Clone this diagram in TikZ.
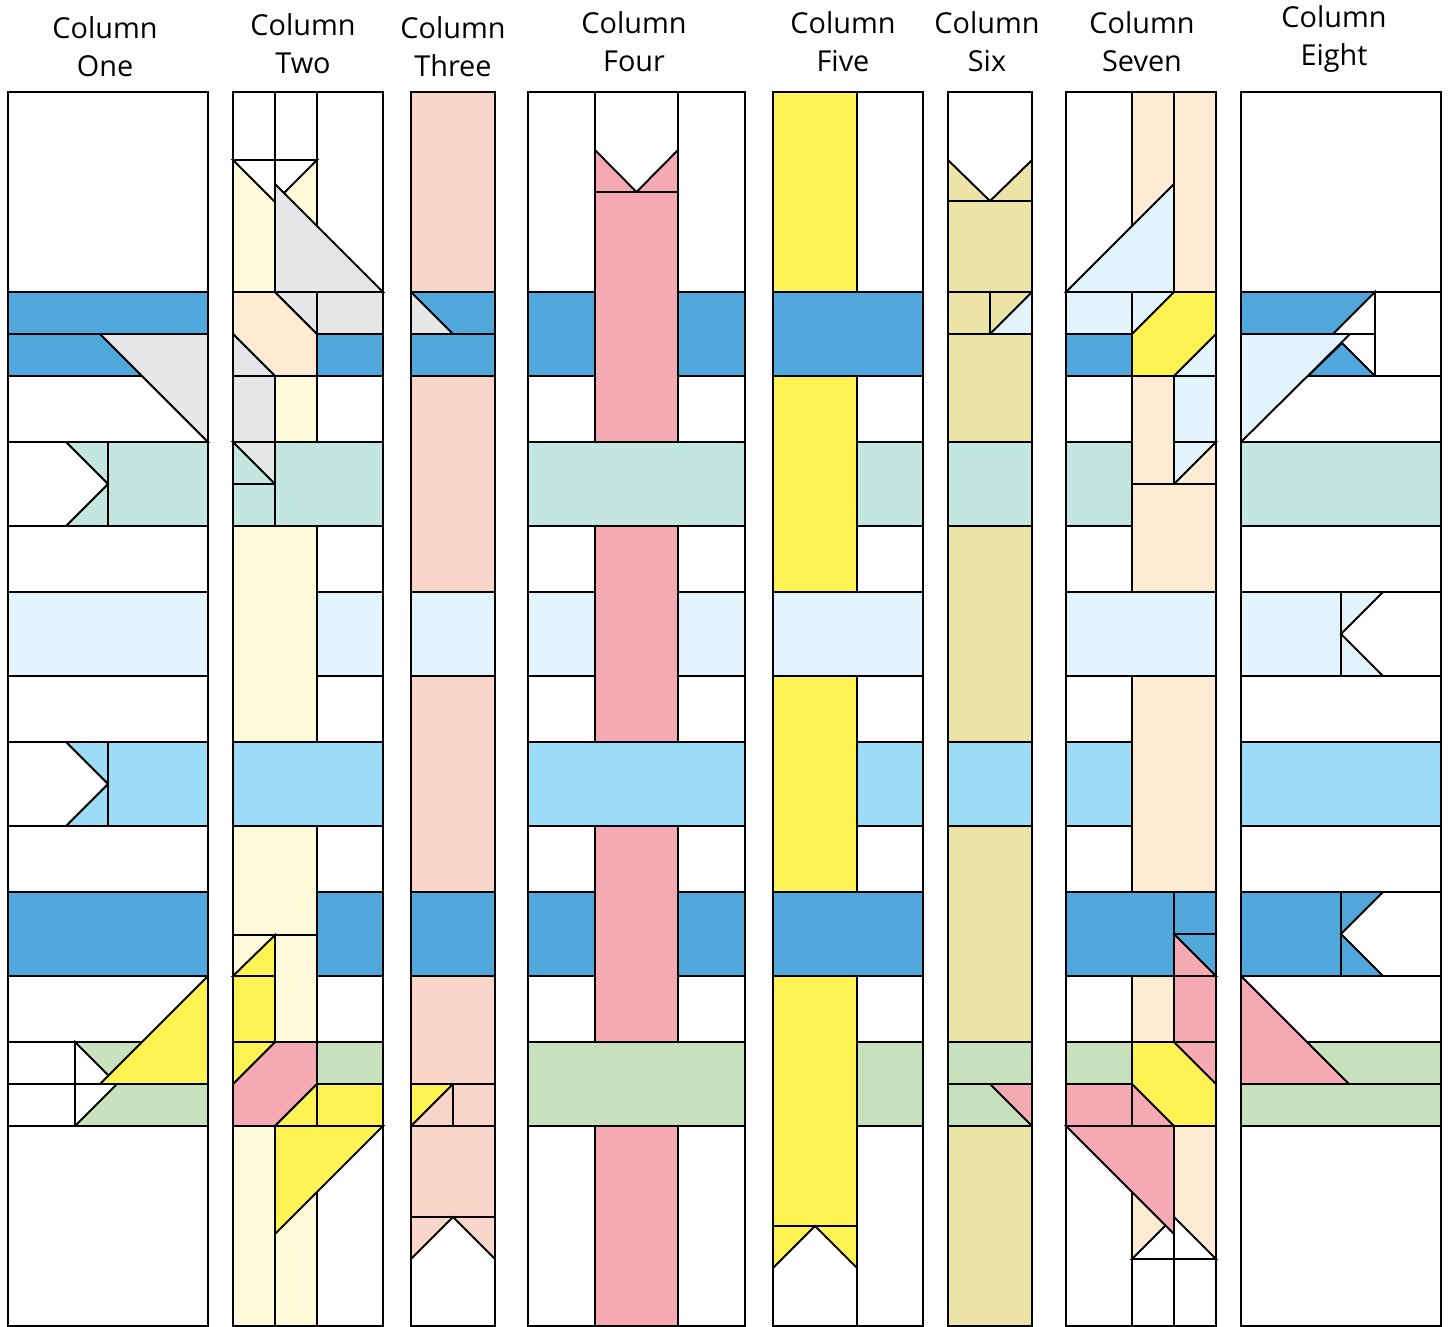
\documentclass[tikz,border=0pt]{standalone}
\usepackage{fontspec}
\setmainfont{Open Sans}

\definecolor{dblue}{RGB}{79,167,220}
\definecolor{mblue}{RGB}{157,220,247}
\definecolor{lcyan}{RGB}{226,243,251}
\definecolor{mint}{RGB}{196,230,224}
\definecolor{sage}{RGB}{199,225,189}
\definecolor{stone}{RGB}{229,230,232}
\definecolor{lyel}{RGB}{255,250,218}
\definecolor{yel}{RGB}{255,242,83}
\definecolor{salmon}{RGB}{249,213,201}
\definecolor{rose}{RGB}{245,170,179}
\definecolor{cream}{RGB}{253,235,212}
\definecolor{khaki}{RGB}{236,228,167}

\tikzset{
  tile/.style={draw=black, line width=0.55pt, line join=miter, fill=white},
  title/.style={align=center, inner sep=0pt, font=\fontsize{8.2}{10.8}\selectfont}
}

\begin{document}
\begin{tikzpicture}[x=0.01cm, y=-0.01cm]

  \useasboundingbox (0,0) rectangle (1448,1326);

  % titles
  \node[title] (t1) at (105,47)  {Column\\One};
  \node[title] (t2) at (303,44)  {Column\\Two};
  \node[title] (t3) at (453,47)  {Column\\Three};
  \node[title] (t4) at (634,42)  {Column\\Four};
  \node[title] (t5) at (843,42)  {Column\\Five};
  \node[title] (t6) at (987,42)  {Column\\Six};
  \node[title] (t7) at (1142,42) {Column\\Seven};
  \node[title] (t8) at (1334,39) {Column\\Eight};

  % column one
  \path[tile] (8,92) rectangle (208,292);
  \path[tile, fill=dblue] (8,292) rectangle (208,334);
  \path[tile, fill=dblue] (8,334) -- (100,334) -- (142,376) -- (8,376) -- cycle;
  \path[tile] (8,376) -- (142,376) -- (208,442) -- (8,442) -- cycle;
  \path[tile, fill=stone] (100,334) -- (208,334) -- (208,442) -- cycle;
  \path[tile, fill=mint] (108,442) rectangle (208,526);
  \path[tile, fill=mint] (66,442) -- (108,442) -- (108,526) -- (66,526) -- (108,484) -- cycle;
  \path[tile] (8,442) -- (66,442) -- (108,484) -- (66,526) -- (8,526) -- cycle;
  \path[tile] (8,526) rectangle (208,592);
  \path[tile, fill=lcyan] (8,592) rectangle (208,676);
  \path[tile] (8,676) rectangle (208,742);
  \path[tile, fill=mblue] (108,742) rectangle (208,826);
  \path[tile, fill=mblue] (66,742) -- (108,742) -- (108,826) -- (66,826) -- (108,784) -- cycle;
  \path[tile] (8,742) -- (66,742) -- (108,784) -- (66,826) -- (8,826) -- cycle;
  \path[tile] (8,826) rectangle (208,892);
  \path[tile, fill=dblue] (8,892) rectangle (208,976);
  \path[tile] (8,976) rectangle (208,1042);
  \path[tile] (8,1042) rectangle (75,1084);
  \path[tile] (8,1084) rectangle (75,1126);
  \path[tile, fill=sage] (75,1042) rectangle (208,1084);
  \path[tile] (75,1042) -- (117,1084) -- (75,1084) -- cycle;
  \path[tile, fill=sage] (75,1084) rectangle (208,1126);
  \path[tile] (75,1084) -- (117,1084) -- (75,1126) -- cycle;
  \path[tile, fill=yel] (100,1084) -- (208,976) -- (208,1084) -- cycle;
  \path[tile] (8,1126) rectangle (208,1326);

  % column two
  \path[tile] (233,92) rectangle (275,160);
  \path[tile] (275,92) rectangle (317,160);
  \path[tile] (317,92) rectangle (383,292);
  \path[tile, fill=lyel] (233,160) rectangle (275,292);
  \path[tile] (233,160) -- (275,160) -- (275,202) -- cycle;
  \path[tile, fill=lyel] (275,160) rectangle (317,292);
  \path[tile] (275,160) -- (317,160) -- (275,202) -- cycle;
  \path[tile, fill=stone] (275,184) -- (383,292) -- (275,292) -- cycle;
  \path[tile, fill=cream] (233,292) -- (275,292) -- (317,334) -- (317,376) -- (275,376) -- (233,334) -- cycle;
  \path[tile, fill=stone] (275,292) -- (317,292) -- (317,334) -- cycle;
  \path[tile, fill=stone] (233,334) -- (275,376) -- (233,376) -- cycle;
  \path[tile, fill=stone] (317,292) rectangle (383,334);
  \path[tile, fill=dblue] (317,334) rectangle (383,376);
  \path[tile, fill=stone] (233,376) rectangle (275,442);
  \path[tile, fill=lyel] (275,376) rectangle (317,442);
  \path[tile] (317,376) rectangle (383,442);
  \path[tile, fill=mint] (233,442) rectangle (275,484);
  \path[tile, fill=stone] (233,442) -- (275,442) -- (275,484) -- cycle;
  \path[tile, fill=mint] (233,484) rectangle (275,526);
  \path[tile, fill=mint] (275,442) rectangle (383,526);
  \path[tile, fill=lyel] (233,526) rectangle (317,742);
  \path[tile] (317,526) rectangle (383,592);
  \path[tile, fill=lcyan] (317,592) rectangle (383,676);
  \path[tile] (317,676) rectangle (383,742);
  \path[tile, fill=mblue] (233,742) rectangle (383,826);
  \path[tile, fill=lyel] (233,826) rectangle (317,935);
  \path[tile] (317,826) rectangle (383,892);
  \path[tile, fill=dblue] (317,892) rectangle (383,976);
  \path[tile, fill=lyel] (233,935) rectangle (275,976);
  \path[tile, fill=yel] (233,976) -- (275,935) -- (275,976) -- cycle;
  \path[tile, fill=lyel] (275,935) rectangle (317,1042);
  \path[tile, fill=yel] (233,976) rectangle (275,1042);
  \path[tile] (317,976) rectangle (383,1042);
  \path[tile, fill=rose] (275,1042) -- (317,1042) -- (317,1084) -- (275,1126) -- (233,1126) -- (233,1084) -- cycle;
  \path[tile, fill=yel] (233,1042) -- (275,1042) -- (233,1084) -- cycle;
  \path[tile, fill=yel] (317,1084) -- (317,1126) -- (275,1126) -- cycle;
  \path[tile, fill=sage] (317,1042) rectangle (383,1084);
  \path[tile, fill=yel] (317,1084) rectangle (383,1126);
  \path[tile, fill=lyel] (233,1126) rectangle (275,1326);
  \path[tile, fill=lyel] (275,1126) rectangle (317,1326);
  \path[tile] (317,1126) rectangle (383,1326);
  \path[tile, fill=yel] (275,1126) -- (383,1126) -- (275,1234) -- cycle;

  % column three
  \path[tile, fill=salmon] (411,92) rectangle (495,292);
  \path[tile, fill=dblue] (411,292) rectangle (495,334);
  \path[tile, fill=stone] (411,292) -- (453,334) -- (411,334) -- cycle;
  \path[tile, fill=dblue] (411,334) rectangle (495,376);
  \path[tile, fill=salmon] (411,376) rectangle (495,592);
  \path[tile, fill=lcyan] (411,592) rectangle (495,676);
  \path[tile, fill=salmon] (411,676) rectangle (495,892);
  \path[tile, fill=dblue] (411,892) rectangle (495,976);
  \path[tile, fill=salmon] (411,976) rectangle (495,1084);
  \path[tile, fill=salmon] (411,1084) rectangle (453,1126);
  \path[tile, fill=yel] (411,1084) -- (453,1084) -- (411,1126) -- cycle;
  \path[tile, fill=salmon] (453,1084) rectangle (495,1126);
  \path[tile, fill=salmon] (411,1126) rectangle (495,1217);
  \path[tile, fill=salmon] (411,1217) rectangle (495,1326);
  \path[tile] (411,1259) -- (453,1217) -- (495,1259) -- (495,1326) -- (411,1326) -- cycle;

  % column four
  \path[tile] (528,92) rectangle (595,292);
  \path[tile] (678,92) rectangle (745,292);
  \path[tile] (595,92) rectangle (678,192);
  \path[tile, fill=rose] (595,150) -- (636.5,192) -- (595,192) -- cycle;
  \path[tile, fill=rose] (678,150) -- (678,192) -- (636.5,192) -- cycle;
  \path[tile, fill=rose] (595,192) rectangle (678,442);
  \path[tile, fill=rose] (595,526) rectangle (678,742);
  \path[tile, fill=rose] (595,826) rectangle (678,1042);
  \path[tile, fill=rose] (595,1126) rectangle (678,1326);
  \foreach \xa/\xb in {528/595, 678/745} {
    \path[tile, fill=dblue] (\xa,292) rectangle (\xb,376);
    \path[tile] (\xa,376) rectangle (\xb,442);
    \path[tile] (\xa,526) rectangle (\xb,592);
    \path[tile, fill=lcyan] (\xa,592) rectangle (\xb,676);
    \path[tile] (\xa,676) rectangle (\xb,742);
    \path[tile] (\xa,826) rectangle (\xb,892);
    \path[tile, fill=dblue] (\xa,892) rectangle (\xb,976);
    \path[tile] (\xa,976) rectangle (\xb,1042);
    \path[tile] (\xa,1126) rectangle (\xb,1326);
  }
  \path[tile, fill=mint] (528,442) rectangle (745,526);
  \path[tile, fill=mblue] (528,742) rectangle (745,826);
  \path[tile, fill=sage] (528,1042) rectangle (745,1126);

  % column five
  \path[tile, fill=yel] (773,92) rectangle (857,292);
  \path[tile] (857,92) rectangle (923,292);
  \path[tile, fill=dblue] (773,292) rectangle (923,376);
  \path[tile, fill=yel] (773,376) rectangle (857,592);
  \path[tile] (857,376) rectangle (923,442);
  \path[tile, fill=mint] (857,442) rectangle (923,526);
  \path[tile] (857,526) rectangle (923,592);
  \path[tile, fill=lcyan] (773,592) rectangle (923,676);
  \path[tile, fill=yel] (773,676) rectangle (857,892);
  \path[tile] (857,676) rectangle (923,742);
  \path[tile, fill=mblue] (857,742) rectangle (923,826);
  \path[tile] (857,826) rectangle (923,892);
  \path[tile, fill=dblue] (773,892) rectangle (923,976);
  \path[tile, fill=yel] (773,976) rectangle (857,1226);
  \path[tile, fill=yel] (773,1226) rectangle (857,1326);
  \path[tile] (773,1268) -- (815,1226) -- (857,1268) -- (857,1326) -- (773,1326) -- cycle;
  \path[tile] (857,976) rectangle (923,1042);
  \path[tile, fill=sage] (857,1042) rectangle (923,1126);
  \path[tile] (857,1126) rectangle (923,1326);

  % column six
  \path[tile] (948,92) rectangle (1032,201);
  \path[tile, fill=khaki] (948,160) -- (990,201) -- (948,201) -- cycle;
  \path[tile, fill=khaki] (1032,160) -- (1032,201) -- (990,201) -- cycle;
  \path[tile, fill=khaki] (948,201) rectangle (1032,292);
  \path[tile, fill=khaki] (948,292) rectangle (990,334);
  \path[tile, fill=khaki] (990,292) rectangle (1032,334);
  \path[tile, fill=lcyan] (990,334) -- (1032,292) -- (1032,334) -- cycle;
  \path[tile, fill=khaki] (948,334) rectangle (1032,442);
  \path[tile, fill=mint] (948,442) rectangle (1032,526);
  \path[tile, fill=khaki] (948,526) rectangle (1032,742);
  \path[tile, fill=mblue] (948,742) rectangle (1032,826);
  \path[tile, fill=khaki] (948,826) rectangle (1032,1042);
  \path[tile, fill=sage] (948,1042) rectangle (1032,1084);
  \path[tile, fill=sage] (948,1084) rectangle (1032,1126);
  \path[tile, fill=rose] (990,1084) -- (1032,1084) -- (1032,1126) -- cycle;
  \path[tile, fill=khaki] (948,1126) rectangle (1032,1326);

  % column seven
  \path[tile] (1066,92) rectangle (1132,292);
  \path[tile, fill=cream] (1132,92) rectangle (1174,292);
  \path[tile, fill=cream] (1174,92) rectangle (1216,292);
  \path[tile, fill=lcyan] (1066,292) -- (1174,184) -- (1174,292) -- cycle;
  \path[tile, fill=lcyan] (1066,292) rectangle (1132,334);
  \path[tile, fill=dblue] (1066,334) rectangle (1132,376);
  \path[tile, fill=lcyan] (1132,292) rectangle (1216,376);
  \path[tile, fill=yel] (1174,292) -- (1216,292) -- (1216,334) -- (1174,376) -- (1132,376) -- (1132,334) -- cycle;
  \path[tile] (1066,376) rectangle (1132,442);
  \path[tile, fill=mint] (1066,442) rectangle (1132,526);
  \path[tile] (1066,526) rectangle (1132,592);
  \path[tile, fill=cream] (1132,376) rectangle (1174,484);
  \path[tile, fill=lcyan] (1174,376) rectangle (1216,442);
  \path[tile, fill=cream] (1174,442) rectangle (1216,484);
  \path[tile, fill=lcyan] (1174,442) -- (1216,442) -- (1174,484) -- cycle;
  \path[tile, fill=cream] (1132,484) rectangle (1216,592);
  \path[tile, fill=lcyan] (1066,592) rectangle (1216,676);
  \path[tile] (1066,676) rectangle (1132,742);
  \path[tile, fill=mblue] (1066,742) rectangle (1132,826);
  \path[tile] (1066,826) rectangle (1132,892);
  \path[tile, fill=cream] (1132,676) rectangle (1216,892);
  \path[tile, fill=dblue] (1066,892) rectangle (1174,976);
  \path[tile, fill=dblue] (1174,892) rectangle (1216,934);
  \path[tile, fill=dblue] (1174,934) rectangle (1216,976);
  \path[tile, fill=rose] (1174,934) -- (1216,976) -- (1174,976) -- cycle;
  \path[tile] (1066,976) rectangle (1132,1042);
  \path[tile, fill=cream] (1132,976) rectangle (1174,1042);
  \path[tile, fill=rose] (1174,976) rectangle (1216,1042);
  \path[tile, fill=sage] (1066,1042) rectangle (1132,1084);
  \path[tile, fill=rose] (1066,1084) rectangle (1132,1126);
  \path[tile, fill=rose] (1132,1042) rectangle (1216,1126);
  \path[tile, fill=yel] (1132,1042) -- (1174,1042) -- (1216,1084) -- (1216,1126) -- (1174,1126) -- (1132,1084) -- cycle;
  \path[tile] (1066,1126) rectangle (1132,1326);
  \path[tile, fill=cream] (1132,1126) rectangle (1174,1259);
  \path[tile, fill=cream] (1174,1126) rectangle (1216,1259);
  \path[tile] (1132,1259) -- (1174,1217) -- (1174,1259) -- cycle;
  \path[tile] (1174,1217) -- (1216,1259) -- (1174,1259) -- cycle;
  \path[tile] (1132,1259) rectangle (1174,1326);
  \path[tile] (1174,1259) rectangle (1216,1326);
  \path[tile, fill=rose] (1066,1126) -- (1174,1126) -- (1174,1234) -- cycle;

  % column eight
  \path[tile] (1241,92) rectangle (1441,292);
  \path[tile, fill=dblue] (1241,292) rectangle (1375,334);
  \path[tile] (1375,292) -- (1375,334) -- (1333,334) -- cycle;
  \path[tile] (1241,334) rectangle (1375,376);
  \path[tile] (1241,376) rectangle (1441,442);
  \path[tile] (1375,292) rectangle (1441,376);
  \path[tile, fill=dblue] (1342,343) -- (1375,376) -- (1308,376) -- cycle;
  \path[tile, fill=lcyan] (1241,334) -- (1350,334) -- (1241,442) -- cycle;
  \path[tile, fill=mint] (1241,442) rectangle (1441,526);
  \path[tile] (1241,526) rectangle (1441,592);
  \path[tile, fill=lcyan] (1241,592) rectangle (1341,676);
  \path[tile, fill=lcyan] (1341,592) rectangle (1383,676);
  \path[tile] (1383,592) -- (1341,634) -- (1383,676) -- (1441,676) -- (1441,592) -- cycle;
  \path[tile] (1241,676) rectangle (1441,742);
  \path[tile, fill=mblue] (1241,742) rectangle (1441,826);
  \path[tile] (1241,826) rectangle (1441,892);
  \path[tile, fill=dblue] (1241,892) rectangle (1341,976);
  \path[tile, fill=dblue] (1341,892) rectangle (1383,976);
  \path[tile] (1383,892) -- (1341,934) -- (1383,976) -- (1441,976) -- (1441,892) -- cycle;
  \path[tile] (1241,976) rectangle (1441,1042);
  \path[tile, fill=sage] (1241,1042) rectangle (1441,1084);
  \path[tile, fill=sage] (1241,1084) rectangle (1441,1126);
  \path[tile, fill=rose] (1241,976) -- (1349,1084) -- (1241,1084) -- cycle;
  \path[tile] (1241,1126) rectangle (1441,1326);

\end{tikzpicture}
\end{document}
